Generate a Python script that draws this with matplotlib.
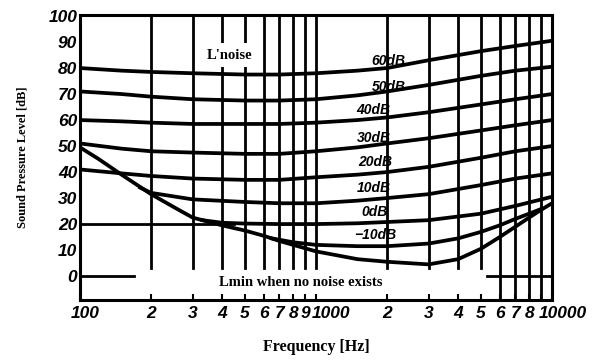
import matplotlib as mpl
mpl.use('Agg')
import matplotlib.pyplot as plt
from matplotlib.transforms import ScaledTranslation
import numpy as np

# threshold in quiet (Lmin)
lmin_f = [100, 120, 150, 200, 250, 300, 400, 500, 600, 700, 800, 1000, 1500, 2000, 3000,
          4000, 5000, 6000, 7000, 8000, 9000, 10000]
lmin_db = [49.5, 45, 39, 31.5, 26.5, 22.5, 19.5, 17.5, 15.5, 13.5, 12, 9.5, 6.5, 5.5, 4.5,
           6.5, 10.5, 15, 19, 22.5, 25.5, 28]

# masked thresholds for each noise level L'noise
hi_f = [100, 150, 200, 300, 500, 700, 1000, 1500, 2000, 3000, 5000, 7000, 10000]
m60 = [80, 79, 78.5, 78, 77.5, 77.5, 78, 79, 80, 83, 86.5, 88.5, 90.5]
m50 = [71, 70, 69, 68, 67.5, 67.5, 68, 69.5, 71, 73.5, 77, 79, 80.5]
m40 = [60, 59.5, 59, 58.5, 58.5, 58.5, 59, 60, 61, 63, 66, 68, 70]
m30 = [51, 49, 48, 47.5, 47, 47, 48, 49.5, 51, 53, 56, 58, 60]
m20 = [41, 39.5, 38.5, 37.5, 37, 37, 38, 39, 40, 42, 45.5, 48, 50]

m10_f = [180, 200, 300, 500, 700, 1000, 1500, 2000, 3000, 5000, 7000, 10000]
m10 = [34, 32, 29.5, 28.5, 28, 28, 29, 30, 31.5, 35, 37.5, 39.5]

m0_f = [330, 400, 500, 700, 1000, 1500, 2000, 3000, 5000, 7000, 10000]
m0 = [21.5, 20.5, 20.2, 20, 20, 20.3, 20.8, 21.5, 24, 27, 30.5]

mneg_f = [650, 800, 1000, 1500, 2000, 3000, 4000, 5000, 6000, 7000, 8000, 9000]
mneg = [14.5, 13, 12, 11.5, 11.5, 12.5, 14.5, 17, 19.5, 22, 24, 25.8]

curve_labels = ['60dB', '50dB', '40dB', '30dB', '20dB', '10dB', '0dB', '\u221210dB']
label_f = [1720, 1720, 1480, 1490, 1510, 1490, 1560, 1450]
label_db = [80, 70, 61, 50.5, 41, 31, 22, 13]

xticks = [100, 200, 300, 400, 500, 600, 700, 800, 900, 1000,
          2000, 3000, 4000, 5000, 6000, 7000, 8000, 9000, 10000]
xticklabels = ['100', '2', '3', '4', '5', '6', '7', '8', '9', '1000',
               '2', '3', '4', '5', '6', '7', '8', '', '10000']
yticks = [0, 10, 20, 30, 40, 50, 60, 70, 80, 90, 100]

hand = dict(family=['Liberation Sans', 'DejaVu Sans'], style='italic', weight='bold')
serif = dict(family=['Liberation Serif', 'DejaVu Serif'], weight='bold')

fig = plt.figure(figsize=(6.0, 3.61), dpi=100)
ax = fig.add_axes([80 / 600, 1 - 300 / 361, 472 / 600, 285 / 361])
ax.set_xscale('log')
ax.set_xlim(100, 10000)
ax.set_ylim(-9.2, 100.4)

# vertical grid, broken above the x axis for the left part like the original sheet
for f in xticks[1:-1]:
    lo = -9.2 if f >= 6000 else 3
    ax.plot([f, f], [lo, 100.4], color='black', lw=2.0, zorder=1)
ax.plot([100, 450], [20, 20], color='black', lw=2.0, zorder=1)
ax.plot([100, 170], [0, 0], color='black', lw=2.0, zorder=1)
ax.plot([5300, 10000], [0, 0], color='black', lw=2.0, zorder=1)

lw = 2.7
ax.plot(lmin_f, lmin_db, color='black', lw=lw, zorder=3)
for vals in [m60, m50, m40, m30, m20]:
    ax.plot(hi_f, vals, color='black', lw=lw, zorder=3)
ax.plot(m10_f, m10, color='black', lw=lw, zorder=3)
ax.plot(m0_f, m0, color='black', lw=lw, zorder=3)
ax.plot(mneg_f, mneg, color='black', lw=lw, zorder=3)

for lab, f, d in zip(curve_labels, label_f, label_db):
    ax.text(f, d, lab, fontsize=10, ha='left', va='bottom', zorder=4, **hand)

ax.text(430, 85, "L'noise", fontsize=10.5, ha='center', va='center', zorder=5,
        bbox=dict(facecolor='white', edgecolor='none', pad=4), **serif)
ax.text(860, -2.5, 'Lmin when no noise exists', fontsize=10.5, ha='center', va='center',
        zorder=5, bbox=dict(facecolor='white', edgecolor='none', pad=1), **serif)

ax.set_xticks(xticks)
ax.set_xticklabels(xticklabels, fontsize=12.5, **hand)
ax.xaxis.set_minor_locator(mpl.ticker.NullLocator())
ax.set_yticks(yticks)
ax.set_yticklabels([str(v) for v in yticks], fontsize=12.5, **hand)
ax.tick_params(axis='x', direction='in', length=4, width=1.5, pad=4)
ax.tick_params(axis='y', length=0, pad=2)

# shift the long labels as written on the sheet
shifts = {0: 5, 9: 15, 18: 11}
for i, t in enumerate(ax.get_xticklabels()):
    if i in shifts:
        t.set_transform(t.get_transform() + ScaledTranslation(shifts[i] / 100, 0, fig.dpi_scale_trans))

for sp in ax.spines.values():
    sp.set_linewidth(2.2)

ax.set_xlabel('Frequency [Hz]', fontsize=11.5, labelpad=13, **serif)
ax.set_ylabel('Sound Pressure Level [dB]', fontsize=9, labelpad=14, **serif)

fig.savefig('out.png', dpi=100, facecolor='white')
